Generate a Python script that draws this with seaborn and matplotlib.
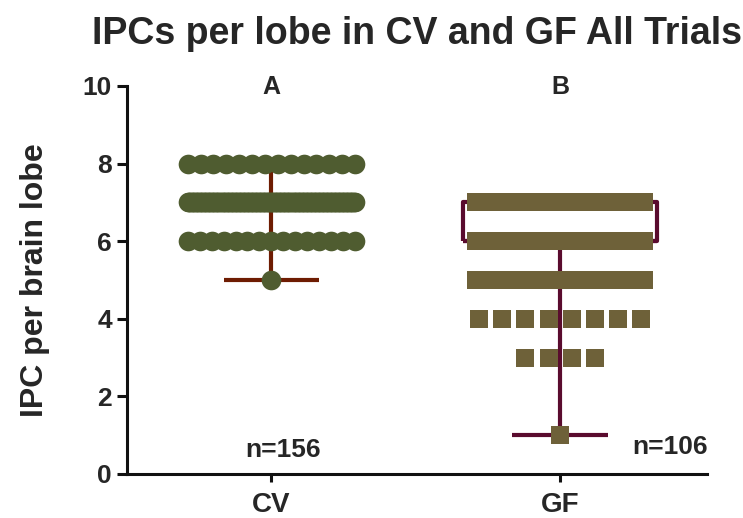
import numpy as np
import pandas as pd
import matplotlib
matplotlib.use('Agg')
import matplotlib.pyplot as plt
import seaborn as sns

# data (value -> number of lobes)
groups = ['CV', 'GF']
cv_values = [5, 6, 7, 8]
cv_counts = [1, 15, 126, 14]
gf_values = [1, 3, 4, 5, 6, 7]
gf_counts = [1, 4, 8, 13, 40, 40]
n_labels = ['n=156', 'n=106']
letters = ['A', 'B']

point_colors = {'CV': '#4f5c30', 'GF': '#6e6139'}
bar_colors = {'CV': '#6e1c02', 'GF': '#5a0b2e'}
markers = {'CV': 'o', 'GF': 's'}
marker_size = {'CV': 200, 'GF': 185}

sns.set_style('white')
plt.rcParams['font.family'] = ['Liberation Sans', 'DejaVu Sans']
plt.rcParams['font.weight'] = 'bold'


def spread(n, pitch=0.08, cap=0.29):
    # horizontal layout of tied points, like a scatter dot plot
    half = min((n - 1) * pitch / 2, cap)
    return np.linspace(-half, half, n) if n > 1 else np.zeros(1)


rows = []
for gi, (g, vals, cnts) in enumerate([('CV', cv_values, cv_counts), ('GF', gf_values, gf_counts)]):
    for v, c in zip(vals, cnts):
        for off in spread(c):
            rows.append({'group': g, 'gx': gi, 'xpos': gi + off, 'value': v})
df = pd.DataFrame(rows)

fig = plt.figure(figsize=(7.43, 5.18), dpi=100)
ax = fig.add_axes([0.171, 0.085, 0.781, 0.749])

# box / whiskers behind the points
box_half = 0.335
cap_half = 0.165
for gi, g in enumerate(groups):
    y = df.loc[df['group'] == g, 'value'].values
    q1, med, q3 = np.percentile(y, [25, 50, 75])
    lo, hi = y.min(), y.max()
    kw = dict(color=bar_colors[g], lw=3, solid_joinstyle='round', solid_capstyle='butt', zorder=2)
    if q3 > q1:
        ax.plot([gi - box_half, gi + box_half, gi + box_half, gi - box_half, gi - box_half],
                [q1, q1, q3, q3, q1], **kw)
        ax.plot([gi - box_half, gi + box_half], [med, med], **kw)
    ax.plot([gi, gi], [lo, q1], **kw)
    ax.plot([gi, gi], [q3, hi], **kw)
    ax.plot([gi - cap_half, gi + cap_half], [lo, lo], **kw)
    ax.plot([gi - cap_half, gi + cap_half], [hi, hi], **kw)

for g in groups:
    sns.scatterplot(data=df[df['group'] == g], x='xpos', y='value', marker=markers[g],
                    color=point_colors[g], s=marker_size[g], linewidth=0,
                    ax=ax, zorder=3, legend=False, clip_on=False)

ax.set_xlim(-0.5, 1.51)
ax.set_ylim(0, 10)
ax.set_xticks([0, 1])
ax.set_xticklabels(groups)
ax.set_yticks(np.arange(0, 11, 2))
ax.set_xlabel('')
ax.set_ylabel('IPC per brain lobe', fontsize=23, fontweight='bold')
ax.yaxis.set_label_coords(-0.133, 0.5)

sns.despine(ax=ax)
for s in ['left', 'bottom']:
    ax.spines[s].set_linewidth(2.2)
    ax.spines[s].set_color('#111111')
ax.tick_params(axis='y', length=7, width=2.2, labelsize=19, pad=4, left=True, color='#111111')
ax.tick_params(axis='x', length=6, width=2.2, labelsize=20, pad=7, bottom=True, color='#111111')
for lab in ax.get_xticklabels() + ax.get_yticklabels():
    lab.set_fontweight('bold')

ax.text(0.04, 0.62, n_labels[0], ha='center', va='center', fontsize=19, fontweight='bold')
ax.text(1.38, 0.70, n_labels[1], ha='center', va='center', fontsize=19, fontweight='bold', clip_on=False)
for gi, t in enumerate(letters):
    ax.text(gi, 9.97, t, ha='center', va='center', fontsize=18, fontweight='bold')

ax.set_title('IPCs per lobe in CV and GF All Trials', fontsize=27, fontweight='bold', pad=30)

fig.savefig('out.png', dpi=100)
